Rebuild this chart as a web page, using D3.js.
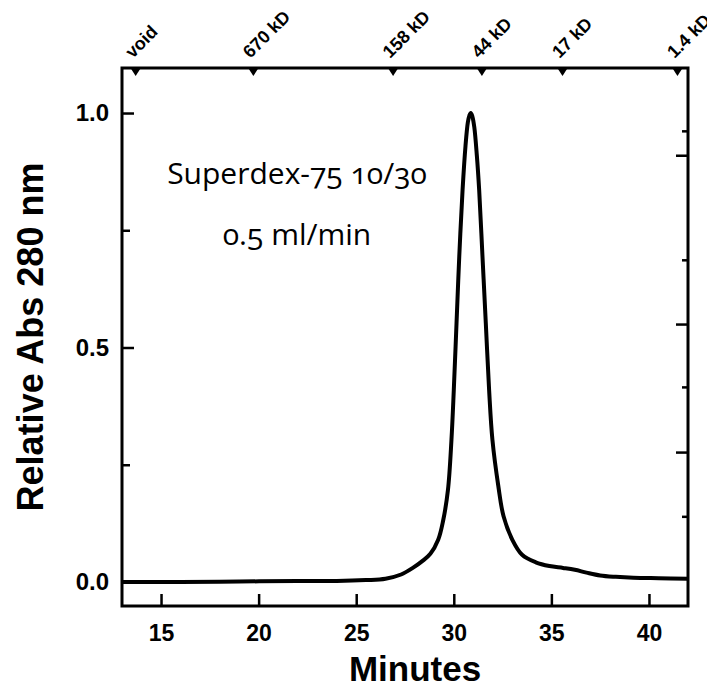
<!DOCTYPE html>
<html>
<head>
<meta charset="utf-8">
<script src="https://cdn.jsdelivr.net/npm/d3@7"></script>
<style>
  body { margin: 0; background: #fff; }
  svg { display: block; }
  .lbl { font-family: "Liberation Sans", Arial, sans-serif; font-weight: bold; fill: #000; }
  .note { font-family: "Open Sans", sans-serif; font-variant-numeric: oldstyle-nums; font-feature-settings: "onum"; fill: #000; }
</style>
</head>
<body>
<svg id="chart"></svg>
<script>
// elution profile (minutes vs relative A280)
var minutes = [13, 16, 19, 22, 24, 25.5, 26.5, 27.3, 27.9, 28.4, 28.8, 29.2, 29.45, 29.7, 29.88,
    30.0, 30.14, 30.28, 30.45, 30.6, 30.72, 30.8, 30.87, 30.95, 31.05, 31.18, 31.3, 31.47, 31.64, 31.81,
    31.98, 32.28, 32.55, 33.0, 33.5, 34.2, 34.9, 35.6, 36.2, 36.8, 37.5, 38.3, 39.2, 40.5, 42];
var absorbance = [0, 0, 0.001, 0.002, 0.002, 0.004, 0.007, 0.016, 0.03, 0.045, 0.06, 0.09, 0.13, 0.196, 0.303,
    0.409, 0.552, 0.694, 0.836, 0.93, 0.98, 0.995, 1.0, 0.993, 0.97, 0.91, 0.836, 0.694, 0.552, 0.409,
    0.303, 0.205, 0.14, 0.09, 0.058, 0.042, 0.034, 0.030, 0.026, 0.020, 0.014, 0.011, 0.009, 0.008, 0.007];

// calibration standards on top axis
var standardNames = ["void", "670 kD", "158 kD", "44 kD", "17 kD", "1.4 kD"];
var standardTimes = [13.7, 19.73, 26.89, 31.44, 35.57, 41.46];

var xTicks = [15, 20, 25, 30, 35, 40];
var yMajor = [0.0, 0.5, 1.0];
var yMinor = [0.25, 0.75];
var rightMajor = [0.91, 0.55, 0.277];
var rightMinor = [0.962, 0.687, 0.416, 0.14];

var width = 707, height = 687;
var margin = {top: 68, right: 19, bottom: 81, left: 122};

var svg = d3.select('#chart')
    .attr('width', width)
    .attr('height', height);

var x = d3.scaleLinear()
    .domain([13, 42])
    .range([margin.left, width - margin.right]);

var y = d3.scaleLinear()
    .domain([-0.0512, 1.096])
    .range([height - margin.bottom, margin.top]);

var data = minutes.map(function(m, i) { return {t: m, v: absorbance[i]}; });

function blackTicks(g) {
    g.select('.domain').remove();
    g.selectAll('line').attr('stroke', '#000').attr('stroke-width', 2.5);
}

// bottom axis, ticks inward
svg.append('g')
    .attr('transform', 'translate(0,' + (height - margin.bottom) + ')')
    .call(d3.axisBottom(x).tickValues(xTicks).tickSize(-12).tickFormat(d3.format('d')))
    .call(blackTicks)
    .call(function(g) {
        g.selectAll('text').attr('class', 'lbl').attr('font-size', 23).attr('y', 19).attr('dy', '0.71em').attr('fill', '#000');
    });

// left axis
svg.append('g')
    .attr('transform', 'translate(' + margin.left + ',0)')
    .call(d3.axisLeft(y).tickValues(yMajor).tickSize(-12).tickFormat(d3.format('.1f')))
    .call(blackTicks)
    .call(function(g) {
        g.selectAll('text').attr('class', 'lbl').attr('font-size', 24).attr('x', -13).attr('fill', '#000');
    });

svg.append('g')
    .attr('transform', 'translate(' + margin.left + ',0)')
    .call(d3.axisLeft(y).tickValues(yMinor).tickSize(-8).tickFormat(''))
    .call(blackTicks);

// right side ticks
var xr = width - margin.right;
svg.append('g')
    .attr('transform', 'translate(' + xr + ',0)')
    .call(d3.axisRight(y).tickValues(rightMajor).tickSize(-12).tickFormat(''))
    .call(blackTicks);
svg.append('g')
    .attr('transform', 'translate(' + xr + ',0)')
    .call(d3.axisRight(y).tickValues(rightMinor).tickSize(-6).tickFormat(''))
    .call(blackTicks);

// the trace
var line = d3.line()
    .x(function(d) { return x(d.t); })
    .y(function(d) { return y(d.v); })
    .curve(d3.curveCatmullRom.alpha(0.5));

svg.append('path')
    .datum(data)
    .attr('d', line)
    .attr('fill', 'none')
    .attr('stroke', '#000')
    .attr('stroke-width', 4)
    .attr('stroke-linejoin', 'round');

// frame
svg.append('rect')
    .attr('x', margin.left)
    .attr('y', margin.top)
    .attr('width', width - margin.left - margin.right)
    .attr('height', height - margin.top - margin.bottom)
    .attr('fill', 'none')
    .attr('stroke', '#000')
    .attr('stroke-width', 3);

// standard markers
var markers = svg.append('g');
markers.selectAll('path')
    .data(standardTimes)
    .enter()
    .append('path')
    .attr('d', function(d) {
        var cx = x(d), top = margin.top + 1;
        return 'M' + (cx - 4.5) + ',' + top + 'L' + (cx + 4.5) + ',' + top + 'L' + cx + ',' + (top + 7) + 'Z';
    })
    .attr('fill', '#000');

markers.selectAll('text')
    .data(standardTimes)
    .enter()
    .append('text')
    .attr('class', 'lbl')
    .attr('font-size', 18)
    .attr('transform', function(d) { return 'translate(' + (x(d) - 3) + ',' + 59 + ') rotate(-45)'; })
    .text(function(d, i) { return standardNames[i]; });

// axis titles
svg.append('text')
    .attr('class', 'lbl')
    .attr('font-size', 35)
    .attr('text-anchor', 'middle')
    .attr('x', (margin.left + width - margin.right) / 2 + 10)
    .attr('y', 681)
    .text('Minutes');

svg.append('text')
    .attr('class', 'lbl')
    .attr('font-size', 36)
    .attr('text-anchor', 'middle')
    .attr('transform', 'translate(43,' + ((margin.top + height - margin.bottom) / 2) + ') rotate(-90)')
    .text('Relative Abs 280 nm');

// column annotation
svg.append('text')
    .attr('class', 'note')
    .attr('font-size', 30)
    .attr('text-anchor', 'middle')
    .attr('x', 297)
    .attr('y', 184)
    .text('Superdex-75 10/30');

svg.append('text')
    .attr('class', 'note')
    .attr('font-size', 30)
    .attr('text-anchor', 'middle')
    .attr('x', 297)
    .attr('y', 245)
    .text('0.5 ml/min');
</script>
</body>
</html>
